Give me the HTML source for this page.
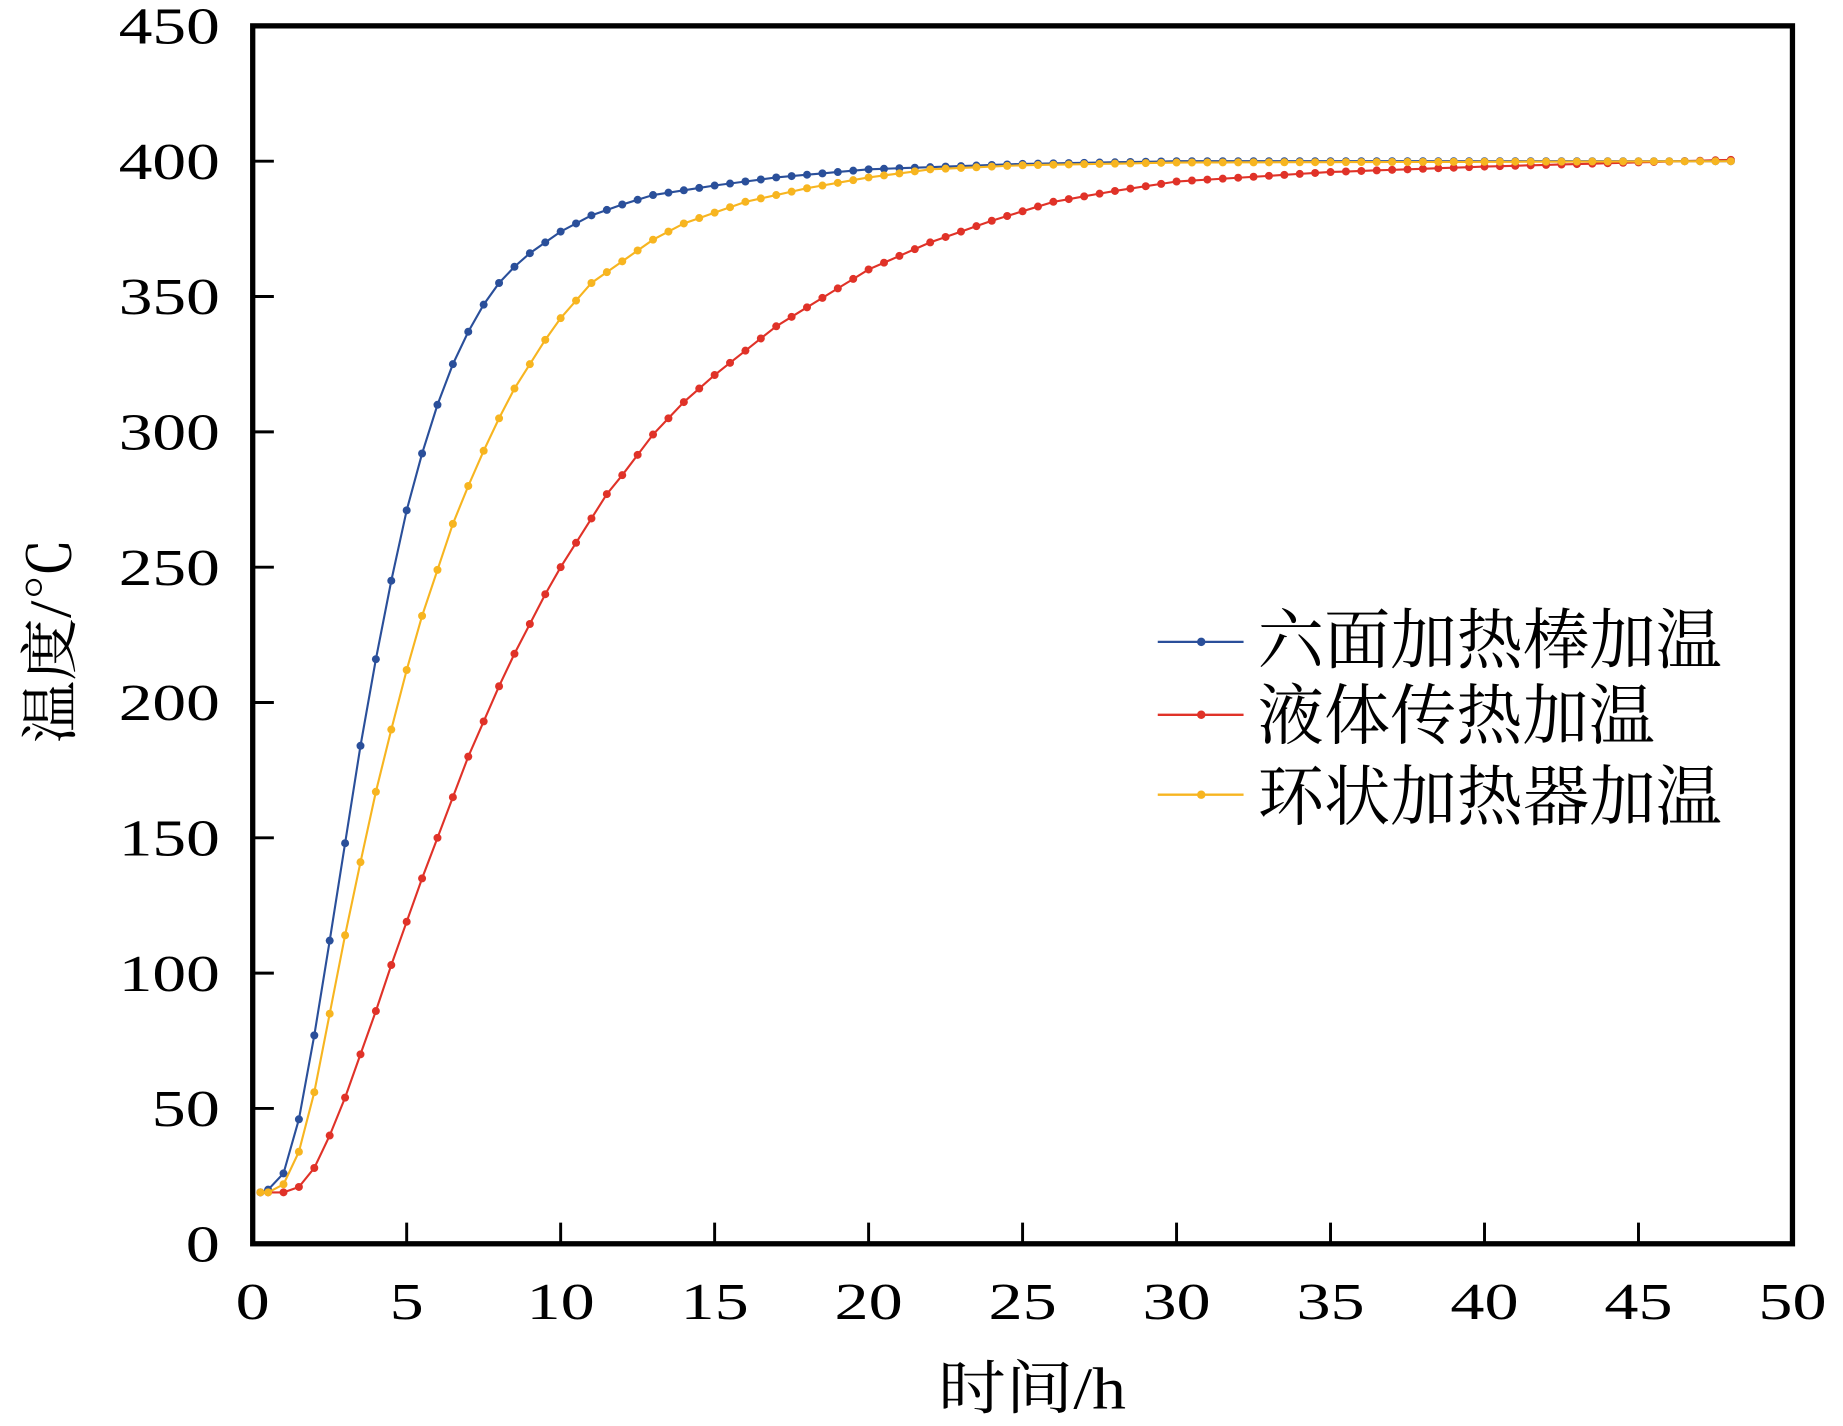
<!DOCTYPE html>
<html><head><meta charset="utf-8"><style>html,body{margin:0;padding:0;background:#fff}svg{display:block}</style></head>
<body>
<svg id="s" width="1843" height="1426" viewBox="0 0 1568 1213" preserveAspectRatio="none" xmlns="http://www.w3.org/2000/svg" font-family="'Liberation Serif','Noto Serif CJK SC',serif">
<g id="plot"></g>
<rect x="215" y="22" width="1310" height="1036" fill="none" stroke="#000" stroke-width="4.5"/>
<g id="ticks" stroke="#000" stroke-width="2.5"></g>
<g id="labels" font-size="44" fill="#000"></g>
<text x="878" y="1198" font-size="50" text-anchor="middle" textLength="160" lengthAdjust="spacingAndGlyphs">时间/h</text>
<text transform="translate(60,545) rotate(-90)" font-size="50" text-anchor="middle" textLength="175" lengthAdjust="spacingAndGlyphs">温度/℃</text>
<g font-size="56">
<line x1="985" y1="546" x2="1058" y2="546" stroke="#2a4f9a" stroke-width="2"/><circle cx="1022" cy="546" r="3.6" fill="#2a4f9a"/>
<text x="1070" y="564" textLength="395" lengthAdjust="spacingAndGlyphs">六面加热棒加温</text>
<line x1="985" y1="608" x2="1058" y2="608" stroke="#e03228" stroke-width="2"/><circle cx="1022" cy="608" r="3.6" fill="#e03228"/>
<text x="1070" y="628" textLength="338" lengthAdjust="spacingAndGlyphs">液体传热加温</text>
<line x1="985" y1="676" x2="1058" y2="676" stroke="#f7b520" stroke-width="2"/><circle cx="1022" cy="676" r="3.6" fill="#f7b520"/>
<text x="1070" y="697" textLength="395" lengthAdjust="spacingAndGlyphs">环状加热器加温</text>
</g>
</svg>
<script>
var NS="http://www.w3.org/2000/svg";
function X(t){return 215+t*26.2}
function Y(v){return 1058-v*2.3022}
function el(p,n,a){var e=document.createElementNS(NS,n);for(var k in a)e.setAttribute(k,a[k]);p.appendChild(e);return e}
var tk=document.getElementById('ticks'),lb=document.getElementById('labels');
for(var i=1;i<10;i++){el(tk,'line',{x1:X(i*5),x2:X(i*5),y1:1058,y2:1040});}
for(var i=0;i<=10;i++){var t=el(lb,'text',{x:X(i*5),y:1122,'text-anchor':'middle',textLength:(i*5>=10?58:29),lengthAdjust:'spacingAndGlyphs'});t.textContent=i*5;}
for(var i=1;i<9;i++){el(tk,'line',{x1:215,x2:233,y1:Y(i*50),y2:Y(i*50)});}
for(var i=0;i<=9;i++){var v=i*50;var t=el(lb,'text',{x:187,y:Y(v)+15,'text-anchor':'end',textLength:(v>=100?86:v>=10?58:29),lengthAdjust:'spacingAndGlyphs'});t.textContent=v;}
var data={
b:[[0.25,19],[0.5,20],[1,26],[1.5,46],[2,77],[2.5,112],[3,148],[3.5,184],[4,216],[4.5,245],[5,271],[5.5,292],[6,310],[6.5,325],[7,337],[7.5,347],[8,355],[8.5,361],[9,366],[9.5,370],[10,374],[11,380],[12,384],[13,387.5],[15,391],[17,394],[20,397],[25,399],[30,400],[48,400]],
r:[[0.25,19],[0.5,19],[1,19],[1.5,21],[2,28],[2.5,40],[3,54],[3.5,70],[4,86],[4.5,103],[5,119],[5.5,135],[6,150],[6.5,165],[7,180],[7.5,193],[8,206],[8.5,218],[9,229],[9.5,240],[10,250],[10.5,259],[11,268],[11.5,277],[12,284],[13,299],[14,311],[15,321],[16,330],[17,339],[18,346],[19,353],[20,360],[22,370],[24,378],[26,385],[28,389],[30,392.5],[35,396],[40,398],[48,400.5]],
y:[[0.25,19],[0.5,19],[1,22],[1.5,34],[2,56],[2.5,85],[3,114],[3.5,141],[4,167],[4.5,190],[5,212],[5.5,232],[6,249],[6.5,266],[7,280],[7.5,293],[8,305],[8.5,316],[9,325],[9.5,334],[10,342],[11,355],[12,363],[13,371],[14,377],[15,381],[16,385],[18,390],[20,394],[22,397],[25,398.5],[30,399.5],[48,400]]};
function interp(d,t){for(var i=0;i<d.length-1;i++){if(t>=d[i][0]&&t<=d[i+1][0]){var f=(t-d[i][0])/(d[i+1][0]-d[i][0]);return d[i][1]+f*(d[i+1][1]-d[i][1]);}}return d[d.length-1][1];}
var cols={r:'#e03228',b:'#2a4f9a',y:'#f7b520'};
var pg=document.getElementById('plot');
['r','b','y'].forEach(function(k){var pts=[];var ts=[0.25];for(var t=0.5;t<=48.001;t+=0.5)ts.push(t);
ts.forEach(function(t){pts.push([X(t),Y(interp(data[k],t))]);});
el(pg,'polyline',{points:pts.map(function(p){return p[0].toFixed(1)+','+p[1].toFixed(1)}).join(' '),fill:'none',stroke:cols[k],'stroke-width':1.8});
pts.forEach(function(p){el(pg,'circle',{cx:p[0],cy:p[1],r:3.4,fill:cols[k]});});});
</script>
</body></html>
